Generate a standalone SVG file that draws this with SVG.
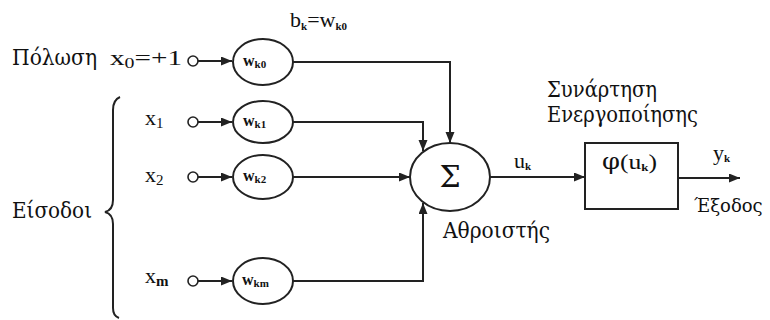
<svg xmlns="http://www.w3.org/2000/svg" width="770" height="320" viewBox="0 0 770 320">
<style>
text{font-family:"Liberation Serif","Times New Roman",serif;fill:#111;}
.gr{font-family:"DejaVu Serif","Liberation Serif",serif;}
.lbl{font-size:22px;}
.w{font-size:16px;font-weight:bold;}
.sub{font-size:11px;font-weight:bold;}
.node{fill:#fff;stroke:#222;stroke-width:2;}
.pin{fill:#fff;stroke:#222;stroke-width:1.6;}
.edge{fill:none;stroke:#222;stroke-width:2;}
</style>
<defs>
<marker id="ah" markerUnits="userSpaceOnUse" markerWidth="12" markerHeight="10" refX="11" refY="4.5" orient="auto">
<path d="M0,0 L11,4.5 L0,9 z" fill="#222"/>
</marker>
</defs>
<rect width="770" height="320" fill="#fff"/>

<g id="labels">
<text class="lbl gr" x="12" y="65" textLength="85" lengthAdjust="spacingAndGlyphs">Πόλωση</text>
<text class="lbl" x="110" y="65" textLength="72" lengthAdjust="spacingAndGlyphs">x<tspan font-size="15" dy="3">0</tspan><tspan dy="-3">=+1</tspan></text>
<text class="lbl" x="290" y="27">b<tspan class="sub" font-size="14" dy="3">k</tspan><tspan dy="-3">=w</tspan><tspan class="sub" font-size="14" dy="3">k0</tspan></text>
<text class="lbl" x="145" y="125">x<tspan font-size="15" dy="3">1</tspan></text>
<text class="lbl" x="145" y="182">x<tspan font-size="15" dy="3">2</tspan></text>
<text class="lbl" x="145" y="283">x<tspan font-size="15" dy="3" font-weight="bold">m</tspan></text>
<text class="lbl gr" x="12" y="218" textLength="80" lengthAdjust="spacingAndGlyphs">Είσοδοι</text>
<text class="lbl gr" x="443" y="238" textLength="107" lengthAdjust="spacingAndGlyphs">Αθροιστής</text>
<text class="lbl gr" x="547" y="97" textLength="110" lengthAdjust="spacingAndGlyphs">Συνάρτηση</text>
<text class="lbl gr" x="547" y="122" textLength="151" lengthAdjust="spacingAndGlyphs">Ενεργοποίησης</text>
<text class="lbl" x="514" y="168">u<tspan class="sub" font-size="14" dy="2">k</tspan></text>
<text class="lbl" x="713" y="160">y<tspan class="sub" font-size="14" dy="2">k</tspan></text>
<text class="gr" x="694" y="212" font-size="18">Έξοδος</text>
</g>

<g id="brace">
<path class="edge" d="M120,97 Q113,100 113,110 V200 Q113,210 105,212 Q113,214 113,224 V308 Q113,316 119,318" stroke-width="1.8"/>
</g>

<g id="inputs">
<circle class="pin" cx="193" cy="61" r="5"/>
<circle class="pin" cx="193" cy="122" r="5"/>
<circle class="pin" cx="193" cy="177" r="5"/>
<circle class="pin" cx="193" cy="281" r="5"/>
</g>

<g id="wk0">
<ellipse class="node" cx="263" cy="62" rx="30" ry="23"/>
<text x="243" y="66"><tspan class="w">w</tspan><tspan class="sub" dy="2">k0</tspan></text>
</g>
<g id="wk1">
<ellipse class="node" cx="263" cy="122" rx="30" ry="21"/>
<text x="243" y="126"><tspan class="w">w</tspan><tspan class="sub" dy="2">k1</tspan></text>
</g>
<g id="wk2">
<ellipse class="node" cx="263" cy="177" rx="30" ry="22"/>
<text x="243" y="181"><tspan class="w">w</tspan><tspan class="sub" dy="2">k2</tspan></text>
</g>
<g id="wkm">
<ellipse class="node" cx="263" cy="281" rx="30" ry="23"/>
<text x="242" y="285"><tspan class="w">w</tspan><tspan class="sub" dy="2">km</tspan></text>
</g>

<g id="sum">
<ellipse class="node" cx="450" cy="177" rx="40" ry="34"/>
<text class="gr" x="450" y="187" font-size="30" text-anchor="middle">Σ</text>
</g>

<g id="activation">
<rect class="node" x="585" y="143" width="93" height="66"/>
<text class="lbl" x="602" y="169" textLength="55" lengthAdjust="spacingAndGlyphs"><tspan class="gr">φ</tspan>(u<tspan class="sub" font-size="14" dy="2">k</tspan><tspan dy="-2">)</tspan></text>
</g>

<g id="connectors">
<path class="edge" d="M198,61 H232" marker-end="url(#ah)"/>
<path class="edge" d="M198,122 H232" marker-end="url(#ah)"/>
<path class="edge" d="M198,177 H232" marker-end="url(#ah)"/>
<path class="edge" d="M198,281 H232" marker-end="url(#ah)"/>
<path class="edge" d="M293,62 H450 V143" marker-end="url(#ah)"/>
<path class="edge" d="M293,122 H423 V151" marker-end="url(#ah)"/>
<path class="edge" d="M293,177 H410" marker-end="url(#ah)"/>
<path class="edge" d="M293,281 H423 V203" marker-end="url(#ah)"/>
<path class="edge" d="M490,177 H585" marker-end="url(#ah)"/>
<path class="edge" d="M678,178 H740" marker-end="url(#ah)"/>
</g>
</svg>
